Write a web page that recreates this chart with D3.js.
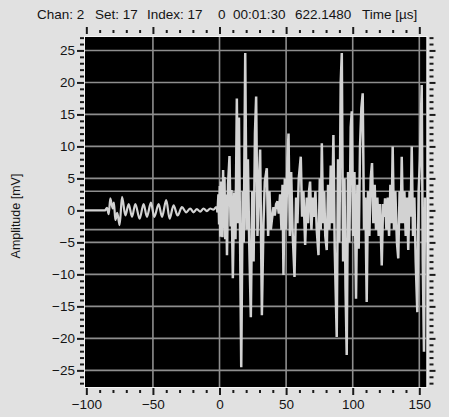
<!DOCTYPE html>
<html>
<head>
<meta charset="utf-8">
<script src="https://cdn.jsdelivr.net/npm/d3@7"></script>
<style>
  html, body { margin: 0; padding: 0; background: #e1e1e1; }
  svg { display: block; }
  text { font-family: "Liberation Sans", Arial, sans-serif; fill: #141414; }
</style>
</head>
<body>
<svg id="chart" width="449" height="417"></svg>
<script>
// Header fields shown above the waveform
const headerItems = [
  { text: "Chan: 2", x: 37 },
  { text: "Set: 17", x: 95 },
  { text: "Index: 17", x: 147 },
  { text: "0", x: 218 },
  { text: "00:01:30", x: 233 },
  { text: "622.1480", x: 295 },
  { text: "Time [µs]", x: 362 }
];

// Axis ticks
const xMajorTicks = [-100, -50, 0, 50, 100, 150];
const xMinorTicks = d3.range(-100, 151, 10);
const yMajorTicks = [-25, -20, -15, -10, -5, 0, 5, 10, 15, 20, 25];
const yMinorTicks = d3.range(-27, 28, 1);

// Grid lines
const xGrid = [-50, 0, 50, 100, 150];
const yGrid = [-25, -20, -15, -10, -5, -3, 3, 5, 10, 15, 20, 25];

// Recorded waveform: [time µs, amplitude mV]
const preTrigger = [
  [-101, 0], [-86, 0], [-84.5, 0.4], [-83.2, -0.6], [-82, 1.9], [-80.2, 0.3],
  [-79.3, 1.2], [-78.2, -1.5], [-76.8, -0.4], [-75, -2.3], [-73.2, 2.1],
  [-70.7, -0.8], [-68.2, 1.0], [-65.7, -1.0], [-63.2, 1.0], [-60, -1.3],
  [-57, 1.0], [-54.5, -1.0], [-51.5, 1.2], [-49, -1.0], [-45.7, 1.0],
  [-43.2, -1.0], [-40, 1.6], [-37.5, -1.3], [-34.5, 0.8], [-31.5, -0.8],
  [-28.2, 0.5], [-25, -0.3], [-22, 0.3], [-19.5, -0.3], [-17, 0.2],
  [-14.5, -0.2], [-12, 0.3], [-9.5, -0.1], [-7, 0.3], [-4.5, 0.1],
  [-2.5, 0.5], [-1.5, -0.3]
];
const burst = [
  [-1.5, -0.3], [-0.8, 2.5], [-0.3, -2.2], [0.2, 3.8], [0.6, -4.1], [1.0, 4.5], [1.4, -3.6],
  [1.8, 3.9], [2.2, -4.2], [2.7, 6.3], [3.2, -2.8], [3.7, 5.2], [4.3, -4.5],
  [5.0, 2.5], [5.6, -7.0], [6.4, 4.0], [7.5, 8.5], [8.3, -2.5], [9.0, 3.2],
  [10.0, -10.6], [11.0, 2.8], [12.0, -4.5], [13.0, 17.5], [13.8, -2.0],
  [14.6, 14.5], [15.5, -6], [16.3, -24.5], [17.4, 3], [18.2, -5], [19.3, 24.6],
  [20.3, -3], [21.3, 8], [22.3, -5], [23.5, -16.7], [24.6, 3], [25.6, -8],
  [26.6, 12], [27.5, 17.8], [28.5, -4], [29.5, 4], [30.5, 9.5], [31.8, -16.4],
  [33, -2], [34, 4.5], [35.5, 6.6], [36.5, -4], [37.5, 3], [38.5, -3],
  [39.3, -1.5], [40.5, 0.5], [41.5, -0.8], [42.5, 1.0], [43.5, 1.4],
  [44.5, -0.5], [45.5, 2.5], [46.5, -3], [47.3, 4], [48, -10.1], [49, 5],
  [50, -3], [51, 8], [51.8, 12], [52.8, -4], [53.8, 6], [54.8, -3],
  [56.3, -10.4], [57.5, 2], [58.5, -2], [59.5, 5], [61, 8.4], [62, -1],
  [63, 3], [64.3, -5.4], [65.5, 2], [66.5, -2], [67.2, 3], [68, 4.5],
  [69, -3], [70, 2], [71, -1], [72, 3], [73, -3], [74.3, -7], [75.3, 5],
  [76, -3], [76.8, 10.5], [77.8, -2], [78.6, 3], [79.4, -4], [80.5, -6.2],
  [81.5, 4], [82.5, -3], [83.5, 7], [84.5, -2], [85.5, 11.8], [86.5, -6],
  [88, -19.8], [89, 8], [90, -5], [91, 20], [91.8, 24.6], [92.8, -8],
  [93.8, 5], [94.6, -12], [95.5, -22.6], [96.5, 6], [97.5, -5], [98.5, 13],
  [99.3, 15.5], [100.3, -4], [101.3, 6], [102.5, -13.8], [103.5, 4],
  [104.5, -6], [105.5, 10], [106.5, 16], [107.5, 18.3], [108.5, -3],
  [109.5, 2], [110.5, -14.3], [111.5, 3], [112.5, -4], [113.5, 5],
  [114.5, 7.4], [115.5, -2], [116.5, 4], [117.5, -3], [118.5, 2],
  [119.5, -4], [120.5, 1], [121.8, -8.6], [122.8, 1], [123.5, -1],
  [124.3, 1.9], [125.3, -3], [126.3, 2], [127.3, -4], [128.3, 4],
  [129.2, -2], [130, 10], [131, -3], [132, 3], [133.2, -5], [134.2, -7.5],
  [135.2, 3], [136, -2], [136.8, 8.4], [137.8, -2], [138.8, 3], [139.8, -4],
  [140.8, 2], [141.7, -6.2], [142.7, 3], [143.5, -1], [144.3, 10],
  [145.3, -4], [146.3, 2], [147.3, -8], [148.5, -15.9], [149.5, 3],
  [150.5, 8], [151.8, 19.6], [152.6, -8], [153.5, -22.1], [154.3, 2],
  [155, -5]
];

const svg = d3.select("#chart");

// Plot frame
const plot = { left: 85, right: 426.5, top: 37, bottom: 387 };

const x = d3.scaleLinear().domain([-101, 155.4]).range([plot.left, plot.right]);
const y = d3.scaleLinear().domain([-27.6, 27.1]).range([plot.bottom, plot.top]);

svg.append("defs").append("clipPath").attr("id", "plotClip")
  .append("rect")
  .attr("x", plot.left).attr("y", plot.top)
  .attr("width", plot.right - plot.left).attr("height", plot.bottom - plot.top);

svg.append("rect")
  .attr("x", plot.left).attr("y", plot.top)
  .attr("width", plot.right - plot.left).attr("height", plot.bottom - plot.top)
  .attr("fill", "#000");

const grid = svg.append("g").attr("clip-path", "url(#plotClip)")
  .attr("stroke", "#8e8e8e").attr("stroke-width", 1.6);
grid.selectAll("line.v").data(xGrid).join("line")
  .attr("class", "v")
  .attr("x1", d => x(d)).attr("x2", d => x(d))
  .attr("y1", plot.top).attr("y2", plot.bottom);
grid.selectAll("line.h").data(yGrid).join("line")
  .attr("class", "h")
  .attr("x1", plot.left).attr("x2", plot.right)
  .attr("y1", d => y(d)).attr("y2", d => y(d));

// Waveform: smooth low-level ringing before the trigger, sharp burst after it
const wave = svg.append("g").attr("clip-path", "url(#plotClip)")
  .attr("fill", "none").attr("stroke", "#d2d2d2");
wave.append("path")
  .datum(preTrigger)
  .attr("stroke-width", 2.2)
  .attr("d", d3.line().curve(d3.curveMonotoneX).x(d => x(d[0])).y(d => y(d[1])));
wave.append("path")
  .datum(burst)
  .attr("stroke-width", 2.5)
  .attr("stroke-linejoin", "bevel")
  .attr("d", d3.line().x(d => x(d[0])).y(d => y(d[1])));

// Light edge around the plot
svg.append("rect")
  .attr("x", plot.left - 0.5).attr("y", plot.top - 0.5)
  .attr("width", plot.right - plot.left + 1).attr("height", plot.bottom - plot.top + 1)
  .attr("fill", "none").attr("stroke", "#f4f4f4").attr("stroke-width", 1);

// Axes: minor ticks first, then major ticks with labels
function styleTicks(g, width) {
  g.select(".domain").remove();
  g.selectAll(".tick line").attr("stroke", "#1a1a1a").attr("stroke-width", width);
}

const xMinorFilter = xMinorTicks.filter(v => !xMajorTicks.includes(v));
const yMinorFilter = yMinorTicks.filter(v => !yMajorTicks.includes(v));

// bottom
svg.append("g").attr("transform", `translate(0,${plot.bottom + 3})`)
  .call(d3.axisBottom(x).tickValues(xMinorFilter).tickSize(3).tickFormat(""))
  .call(g => styleTicks(g, 2));
svg.append("g").attr("transform", `translate(0,${plot.bottom + 1})`)
  .call(d3.axisBottom(x).tickValues(xMajorTicks).tickSize(7).tickPadding(4).tickFormat(d3.format("d")))
  .call(g => styleTicks(g, 2))
  .call(g => g.selectAll("text").attr("font-size", 13.5).attr("fill", "#141414")
    .attr("font-family", "Liberation Sans, Arial, sans-serif"));

// top
svg.append("g").attr("transform", `translate(0,${plot.top - 4})`)
  .call(d3.axisTop(x).tickValues(xMinorFilter).tickSize(3).tickFormat(""))
  .call(g => styleTicks(g, 2));
svg.append("g").attr("transform", `translate(0,${plot.top - 3})`)
  .call(d3.axisTop(x).tickValues(xMajorTicks).tickSize(7).tickFormat(""))
  .call(g => styleTicks(g, 2));

// left
svg.append("g").attr("transform", `translate(${plot.left - 1},0)`)
  .call(d3.axisLeft(y).tickValues(yMinorFilter).tickSize(4).tickFormat(""))
  .call(g => styleTicks(g, 2));
svg.append("g").attr("transform", `translate(${plot.left - 1},0)`)
  .call(d3.axisLeft(y).tickValues(yMajorTicks).tickSize(7).tickPadding(2).tickFormat(d3.format("d")))
  .call(g => styleTicks(g, 2))
  .call(g => g.selectAll("text").attr("font-size", 13.5).attr("fill", "#141414")
    .attr("font-family", "Liberation Sans, Arial, sans-serif"));

// right
svg.append("g").attr("transform", `translate(${plot.right + 3},0)`)
  .call(d3.axisRight(y).tickValues(yMinorFilter).tickSize(4).tickFormat(""))
  .call(g => styleTicks(g, 2));
svg.append("g").attr("transform", `translate(${plot.right + 3},0)`)
  .call(d3.axisRight(y).tickValues(yMajorTicks).tickSize(6).tickFormat(""))
  .call(g => styleTicks(g, 2));

// Header line
svg.append("g").selectAll("text").data(headerItems).join("text")
  .attr("x", d => d.x).attr("y", 19)
  .attr("font-size", 13.5)
  .text(d => d.text);

// Y axis title
svg.append("text")
  .attr("transform", "translate(20,216) rotate(-90)")
  .attr("text-anchor", "middle")
  .attr("font-size", 12.5)
  .text("Amplitude [mV]");
</script>
</body>
</html>
